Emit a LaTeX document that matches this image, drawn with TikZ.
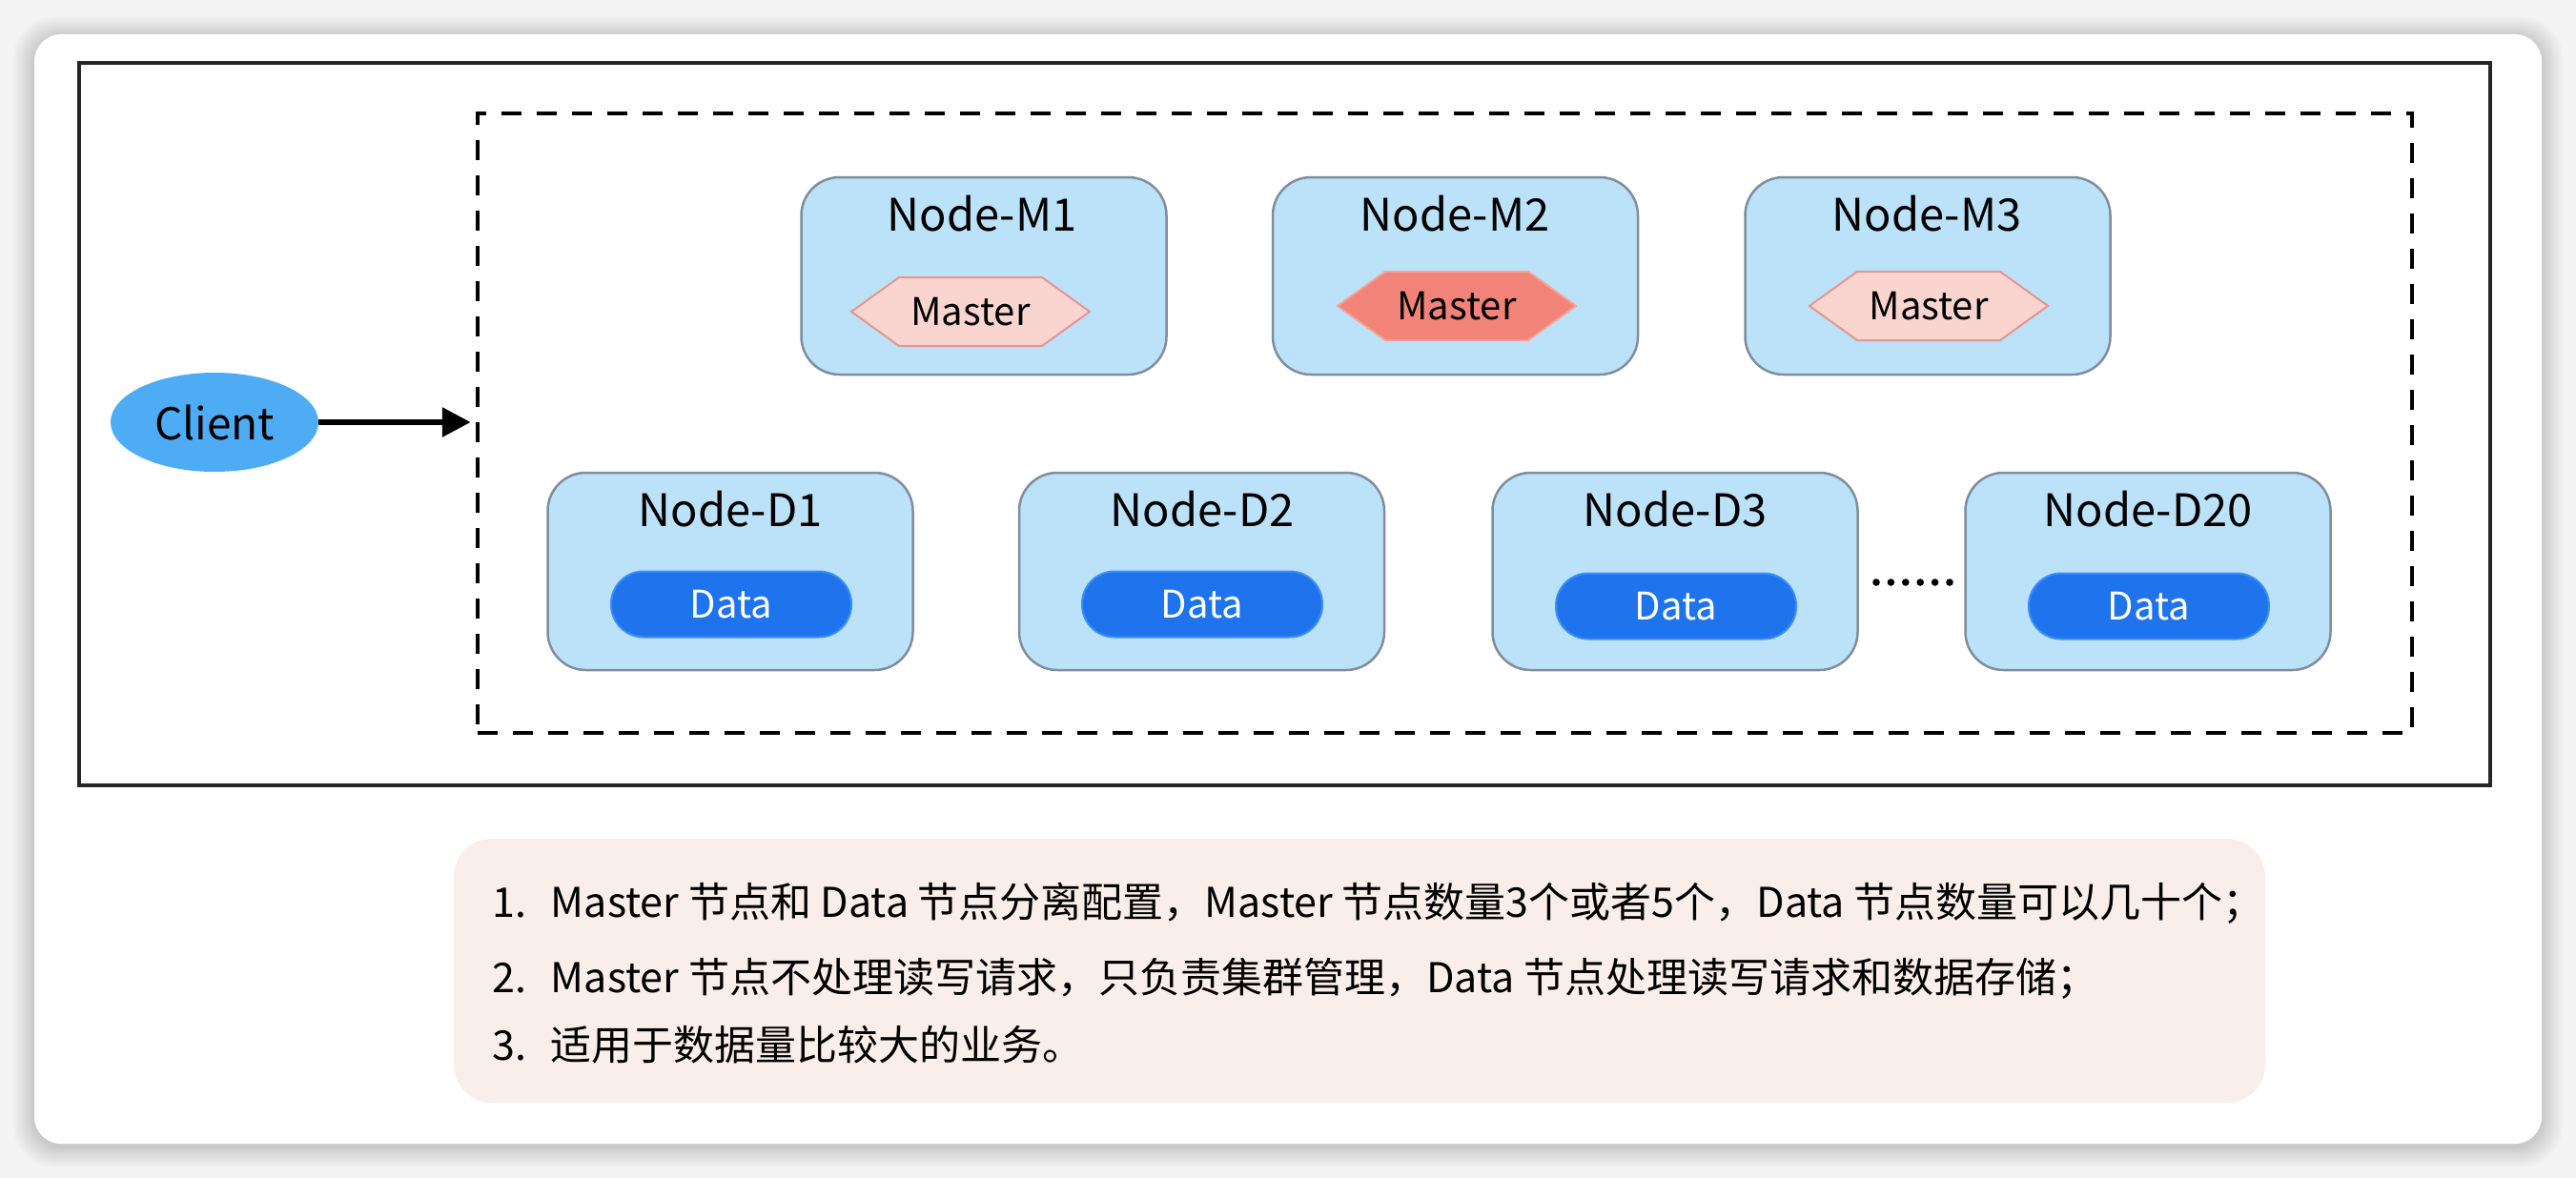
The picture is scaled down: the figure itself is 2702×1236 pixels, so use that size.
\documentclass[tikz,border=0pt]{standalone}
\usepackage{fontspec}
\setmainfont{Noto Sans CJK SC}
\usetikzlibrary{arrows.meta,shapes.geometric,calc}
\definecolor{bgc}{RGB}{244,244,244}
\definecolor{boxfill}{RGB}{187,226,249}
\definecolor{boxdraw}{RGB}{128,142,156}
\definecolor{palefill}{RGB}{250,213,207}
\definecolor{paledraw}{RGB}{228,150,144}
\definecolor{hotfill}{RGB}{241,131,120}
\definecolor{hotdraw}{RGB}{246,162,152}
\definecolor{datafill}{RGB}{31,115,236}
\definecolor{datadraw}{RGB}{62,142,246}
\definecolor{clientfill}{RGB}{78,172,245}
\definecolor{notefill}{RGB}{250,238,235}
\newcommand\hexat[4]{% name, x, y, style
  \coordinate (#1c) at (#2,#3);
  \path[#4] ($(#1c)+(-125,0)$) -- ($(#1c)+(-75,-36)$) -- ($(#1c)+(75,-36)$) --
    ($(#1c)+(125,0)$) -- ($(#1c)+(75,36)$) -- ($(#1c)+(-75,36)$) -- cycle;
  \node[mastertext] (#1) at (#1c) {Master};
}
\begin{document}
\begin{tikzpicture}[x=1pt,y=-1pt,
  nodebox/.style={draw=boxdraw, fill=boxfill, line width=2.5pt, rounded corners=40pt,
    minimum width=383pt, minimum height=207pt, inner sep=0pt},
  titletext/.style={font=\fontsize{47}{56}\selectfont, inner sep=0pt},
  mastertext/.style={font=\fontsize{40}{48}\selectfont, inner sep=0pt},
  datapill/.style={fill=datafill, draw=datadraw, line width=2pt, rounded corners=34pt,
    minimum width=252pt, minimum height=69pt, inner sep=0pt, text=white,
    font=\fontsize{40}{48}\selectfont},
  notetext/.style={font=\fontsize{43}{52}\selectfont, inner sep=0pt, anchor=base west},
  pale/.style={fill=palefill, draw=paledraw, line width=2pt},
  hot/.style={fill=hotfill, draw=hotdraw, line width=2pt}
]
\useasboundingbox (0,0) rectangle (2702,1236);
\fill[bgc] (0,0) rectangle (2702,1236);
% card shadow
\foreach \i in {1,...,14}{
  \fill[black, opacity=0.011, rounded corners=30+\i] (36-1.6*\i,36-1.6*\i+3) rectangle (2666+1.6*\i,1200+1.6*\i+3);
}
\fill[white, rounded corners=28pt] (36,36) rectangle (2666,1200);

% outer frame
\node[draw=black!85, line width=3.5pt, minimum width=2529pt, minimum height=758pt, inner sep=0pt] (frame) at (1347.5,445) {};
% dashed cluster
\node[draw=black, line width=4.5pt, dash pattern=on 21pt off 16pt, minimum width=2029pt, minimum height=650pt, inner sep=0pt] (cluster) at (1515.5,444) {};

% client
\node[ellipse, fill=clientfill, minimum width=218pt, minimum height=104pt, inner sep=0pt,
  font=\fontsize{46}{55}\selectfont] (client) at (225,443) {Client};
\draw[line width=6pt, -{Triangle[length=30pt,width=30pt]}, shorten >=5pt] (client.east) -- (cluster.west |- client.east);

% master nodes
\node[nodebox] (M1) at (1032,289.5) {};
\node[nodebox] (M2) at (1526.5,289.5) {};
\node[nodebox] (M3) at (2022,289.5) {};
\node[titletext] (M1t) at (1030,224) {Node-M1};
\node[titletext] (M2t) at (1526,224) {Node-M2};
\node[titletext] (M3t) at (2021,224) {Node-M3};
\hexat{ma1}{1018}{327}{pale}
\hexat{ma2}{1528}{321}{hot}
\hexat{ma3}{2023}{321}{pale}

% data nodes
\node[nodebox] (D1) at (766,599.5) {};
\node[nodebox] (D2) at (1260.5,599.5) {};
\node[nodebox] (D3) at (1757,599.5) {};
\node[nodebox] (D20) at (2253,599.5) {};
\node[titletext] (D1t) at (766,534) {Node-D1};
\node[titletext] (D2t) at (1261,534) {Node-D2};
\node[titletext] (D3t) at (1757,534) {Node-D3};
\node[titletext] (D20t) at (2253,534) {Node-D20};
\node[datapill] (da1) at (767,634) {Data};
\node[datapill] (da2) at (1261,634) {Data};
\node[datapill] (da3) at (1758,636) {Data};
\node[datapill] (da20) at (2254,636) {Data};
\foreach \k in {0,...,5}{\fill (1968+\k*15.4,611) circle (3.8pt);}

% note
\node[fill=notefill, rounded corners=40pt, minimum width=1900pt, minimum height=277pt, inner sep=0pt] (note) at (1426,1018.5) {};
\node[notetext] (l1) at (516,962) {1.\hspace{26pt}Master 节点和 Data 节点分离配置，Master 节点数量3个或者5个，Data 节点数量可以几十个；};
\node[notetext] (l2) at (516,1041) {2.\hspace{26pt}Master 节点不处理读写请求，只负责集群管理，Data 节点处理读写请求和数据存储；};
\node[notetext] (l3) at (516,1112) {3.\hspace{26pt}适用于数据量比较大的业务。};
\end{tikzpicture}
\end{document}
